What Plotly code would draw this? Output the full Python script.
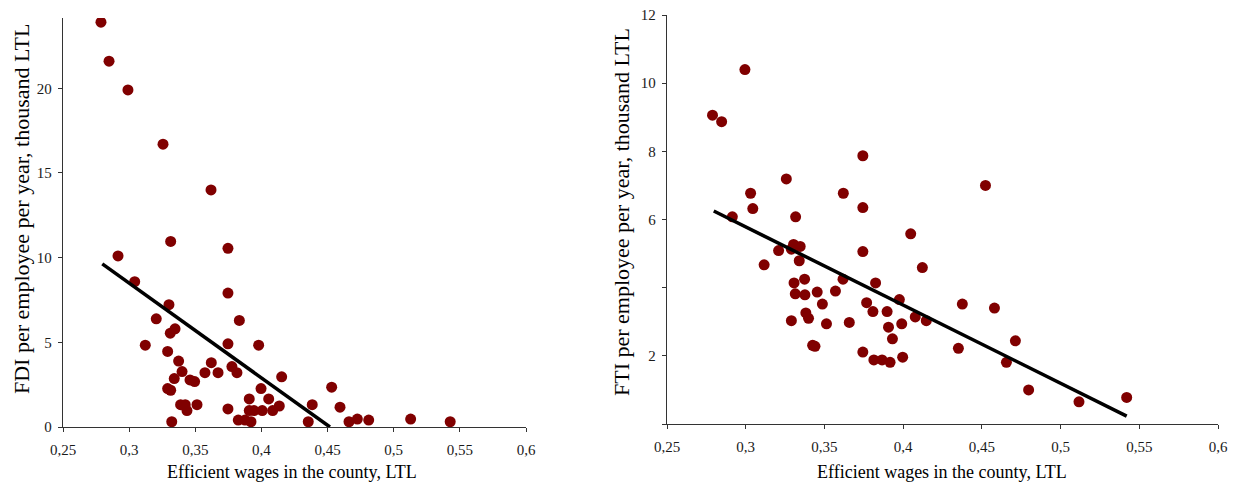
import plotly.graph_objects as go

# ---- Left chart: FDI vs efficient wages ----
fdi_wage = [0.2787, 0.2848, 0.2991, 0.3256, 0.3619, 0.3314, 0.2916, 0.3747, 0.3042,
            0.3747, 0.3301, 0.3833, 0.3205, 0.3347, 0.3311, 0.3747, 0.3979, 0.3122,
            0.3291, 0.3374, 0.3621, 0.3777, 0.3400, 0.3573, 0.3672, 0.3815, 0.4153,
            0.3460, 0.3495, 0.3341, 0.3291, 0.3314, 0.3997, 0.3908, 0.4055, 0.4531,
            0.4384, 0.3389, 0.3424, 0.3437, 0.3513, 0.3747, 0.3908, 0.3944, 0.4006,
            0.4085, 0.4135, 0.3322, 0.3825, 0.3876, 0.3921, 0.4354, 0.4594, 0.4662,
            0.4725, 0.4811, 0.5128, 0.5427]
fdi_value = [23.9, 21.6, 19.9, 16.7, 14.0, 10.96, 10.1, 10.55, 8.58,
             7.91, 7.22, 6.29, 6.39, 5.80, 5.54, 4.91, 4.83, 4.83,
             4.46, 3.89, 3.80, 3.57, 3.27, 3.21, 3.21, 3.21, 2.96,
             2.78, 2.68, 2.86, 2.27, 2.17, 2.27, 1.66, 1.66, 2.35,
             1.32, 1.32, 1.32, 0.97, 1.32, 1.07, 0.97, 0.97, 0.97,
             0.97, 1.24, 0.31, 0.41, 0.41, 0.31, 0.31, 1.17, 0.31,
             0.47, 0.41, 0.47, 0.31]
fdi_trend_x = [0.2797, 0.4518]
fdi_trend_y = [9.63, 0.0]

# ---- Right chart: FTI vs efficient wages ----
fti_wage = [0.2995, 0.2789, 0.2847, 0.3744, 0.3258, 0.3031, 0.3620, 0.3045, 0.3744,
            0.2915, 0.3317, 0.4048, 0.3304, 0.3346, 0.3290, 0.3209, 0.3744, 0.3340,
            0.3117, 0.4122, 0.3374, 0.3618, 0.3307, 0.3825, 0.3454, 0.3570, 0.3315,
            0.3376, 0.3976, 0.3768, 0.3487, 0.3808, 0.3898, 0.3382, 0.3399, 0.3290,
            0.4077, 0.4147, 0.3513, 0.3658, 0.3991, 0.3907, 0.3932, 0.3425, 0.3440,
            0.3744, 0.3814, 0.3866, 0.3917, 0.3997, 0.4523, 0.4376, 0.4580, 0.4351,
            0.4713, 0.4656, 0.4797, 0.5117, 0.5420]
fti_value = [10.40, 9.06, 8.87, 7.87, 7.19, 6.77, 6.77, 6.32, 6.35,
             6.08, 6.08, 5.58, 5.27, 5.21, 5.13, 5.09, 5.06, 4.79,
             4.67, 4.59, 4.25, 4.25, 4.14, 4.14, 3.87, 3.90, 3.82,
             3.79, 3.65, 3.56, 3.52, 3.30, 3.30, 3.26, 3.10, 3.03,
             3.14, 3.03, 2.94, 2.98, 2.94, 2.84, 2.50, 2.31, 2.28,
             2.11, 1.88, 1.88, 1.81, 1.96, 7.00, 3.52, 3.40, 2.22,
             2.44, 1.81, 1.00, 0.65, 0.78]
fti_trend_x = [0.2797, 0.5420]
fti_trend_y = [6.25, 0.23]

x_tickvals = [0.25, 0.3, 0.35, 0.4, 0.45, 0.5, 0.55, 0.6]
x_ticktext = ["0,25", "0,3", "0,35", "0,4", "0,45", "0,5", "0,55", "0,6"]
fdi_tickvals = [0, 5, 10, 15, 20]
fdi_ticktext = ["0", "5", "10", "15", "20"]
fti_tickvals = [0, 2, 4, 6, 8, 10, 12]
fti_ticktext = ["", "2", "", "6", "8", "10", "12"]

x_title = "Efficient wages in the county, LTL"
fdi_title = "FDI per employee per year, thousand LTL"
fti_title = "FTI per employee per year, thousand LTL"

DOT = "#800000"
FONT = "Liberation Serif"
W, H = 1238, 488

fig = go.Figure()
fig.add_trace(go.Scatter(x=fdi_wage, y=fdi_value, mode="markers",
                         marker=dict(color=DOT, size=11, line=dict(width=0)),
                         xaxis="x", yaxis="y", showlegend=False))
fig.add_trace(go.Scatter(x=fdi_trend_x, y=fdi_trend_y, mode="lines",
                         line=dict(color="black", width=3.5),
                         xaxis="x", yaxis="y", showlegend=False))
fig.add_trace(go.Scatter(x=fti_wage, y=fti_value, mode="markers",
                         marker=dict(color=DOT, size=11, line=dict(width=0)),
                         xaxis="x2", yaxis="y2", showlegend=False))
fig.add_trace(go.Scatter(x=fti_trend_x, y=fti_trend_y, mode="lines",
                         line=dict(color="black", width=3.5),
                         xaxis="x2", yaxis="y2", showlegend=False))

def px_x(a, b):
    return [a / W, b / W]

def px_y(top, bottom):
    return [(H - bottom) / H, (H - top) / H]

axis_common = dict(showgrid=False, zeroline=False, showline=True, linecolor="#333333",
                   linewidth=1.3, ticks="outside", ticklen=4, tickcolor="#333333",
                   automargin=False,
                   tickfont=dict(family=FONT, size=15, color="#1a1a1a"))

fig.update_layout(
    width=W, height=H,
    margin=dict(l=0, r=0, t=0, b=0),
    paper_bgcolor="white", plot_bgcolor="white",
    font=dict(family=FONT, color="black"),
    xaxis=dict(domain=px_x(63, 526), range=[0.25, 0.6], tickvals=x_tickvals,
               ticktext=x_ticktext, anchor="y", ticklabelstandoff=5, **axis_common),
    yaxis=dict(domain=px_y(18, 427), range=[0, 24.15], tickvals=fdi_tickvals,
               ticktext=fdi_ticktext, anchor="x", ticklabelstandoff=3, **axis_common),
    xaxis2=dict(domain=px_x(667, 1218), range=[0.25, 0.6], tickvals=x_tickvals,
                ticktext=x_ticktext, anchor="y2", ticklabelstandoff=5, **axis_common),
    yaxis2=dict(domain=px_y(15, 424), range=[0, 12], tickvals=fti_tickvals,
                ticktext=fti_ticktext, anchor="x2", ticklabelstandoff=3, **axis_common),
)

title_font = dict(family=FONT, size=18, color="black")
ytitle_font = dict(family=FONT, size=22, color="black")
fig.add_annotation(text=x_title, xref="paper", yref="paper", x=292 / W, y=(H - 472) / H,
                   xanchor="center", yanchor="middle", showarrow=False, font=title_font)
fig.add_annotation(text=x_title, xref="paper", yref="paper", x=942 / W, y=(H - 472) / H,
                   xanchor="center", yanchor="middle", showarrow=False, font=title_font)
fig.add_annotation(text=fdi_title, xref="paper", yref="paper", x=21 / W, y=(H - 209) / H,
                   xanchor="center", yanchor="middle", textangle=-90, showarrow=False,
                   font=ytitle_font)
fig.add_annotation(text=fti_title, xref="paper", yref="paper", x=621 / W, y=(H - 212) / H,
                   xanchor="center", yanchor="middle", textangle=-90, showarrow=False,
                   font=ytitle_font)

fig.write_html("out.html")
